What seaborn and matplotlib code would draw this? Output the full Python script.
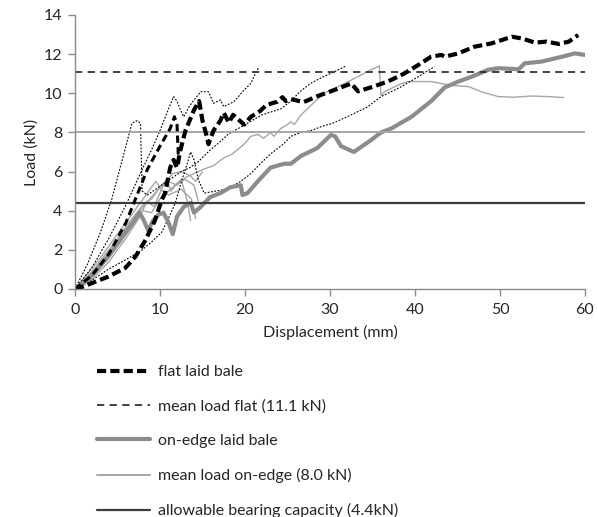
import matplotlib
matplotlib.use("Agg")
import matplotlib.pyplot as plt
import seaborn as sns
from matplotlib.lines import Line2D

# ---------------- data (displacement mm, load kN) ----------------
flat_main_x = [0, 0.8, 2.4, 3.9, 5.9, 7.1, 8.3, 9.4, 10.2, 10.6, 11.2, 11.6, 12.0, 12.4, 13.0, 14.0, 14.6, 15.0, 15.5, 15.7,
               16.3, 17.1, 17.5, 18.1, 18.6, 19.9, 20.7, 21.8, 22.5, 23.8, 24.4, 24.8, 25.4, 26.9, 28.5, 30.1, 31.3, 32.5,
               33.3, 34.8, 36.8, 38.7, 40.4, 41.9, 43.1, 43.5, 45.1, 47.0, 49.0, 51.4, 52.6, 54.1, 55.5, 56.9, 58.1, 59.2]
flat_main_y = [0, 0.1, 0.37, 0.63, 1.07, 1.65, 2.5, 3.5, 4.55, 4.9, 6.2, 6.6, 6.2, 7.1, 8.1, 9.15, 9.6, 8.6, 7.8, 7.4,
               8.1, 8.6, 9.0, 8.5, 8.9, 8.4, 8.8, 9.1, 9.4, 9.57, 9.8, 9.6, 9.7, 9.55, 9.85, 10.1, 10.3, 10.5,
               10.1, 10.3, 10.6, 11.0, 11.45, 11.87, 11.96, 11.87, 12.04, 12.38, 12.55, 12.89, 12.8, 12.59, 12.64, 12.52, 12.64, 12.98]

flat_b1_x = [0, 2, 4, 6, 7.3, 8.5, 10, 11.2, 11.7, 12.0, 12.2]
flat_b1_y = [0, 0.7, 1.8, 3.4, 4.8, 6.1, 7.3, 8.2, 8.8, 8.4, 6.4]

flat_a_x = [0, 1.5, 3, 4.3, 5.5, 6.7, 7.3, 7.7, 7.9, 8.5, 9.5, 10.5, 11.5, 12.5, 13.5, 14.5, 15.9, 17, 18, 20, 22,
            24.2, 25.4, 26.5, 27.7, 29, 30.5, 31.9]
flat_a_y = [0, 1.3, 2.9, 4.55, 6.5, 8.47, 8.6, 8.47, 5.0, 4.8, 5.1, 5.4, 5.7, 6.0, 6.2, 6.5, 7.1, 7.5, 7.9, 8.4, 8.9,
            9.2, 9.6, 10.1, 10.5, 10.8, 11.1, 11.4]

flat_b_x = [0, 2, 3.9, 6, 7.9, 9, 10.2, 11.2, 11.8, 12.6, 13.2, 13.6, 14.0, 14.5, 15.2, 16.5, 17.9, 19.5, 20.7, 21.8,
            23, 24.5, 25.4, 26.6, 27.8, 29, 30.5, 32.5, 34.4, 36, 38.4, 40.4, 41.3, 42.3]
flat_b_y = [0, 0.45, 1.0, 1.5, 2.0, 2.4, 2.9, 3.8, 4.4, 5.6, 6.4, 7.0, 6.6, 5.6, 4.9, 5.0, 5.1, 5.5, 5.9, 6.4,
            6.9, 7.4, 7.8, 8.0, 8.1, 8.3, 8.5, 8.9, 9.3, 9.83, 10.34, 10.85, 11.1, 11.36]

flat_c_x = [0, 2, 4, 6, 8, 9, 10, 11, 11.6, 12.0, 12.4, 12.8, 13.4, 14.0, 14.8, 15.7, 16.3, 17.1, 17.5, 18.7, 19.9,
            20.7, 21.3, 21.6]
flat_c_y = [0, 1.1, 2.6, 4.3, 6.2, 7.1, 8.1, 9.2, 9.83, 9.6, 9.15, 8.8, 9.3, 9.66, 10.08, 10.08, 9.49, 9.66, 9.32, 9.57, 10.17,
            10.51, 11.1, 11.3]

edge_main_x = [0, 1, 2, 3, 4, 5, 6, 7, 7.6, 8.1, 8.6, 9.2, 9.8, 10.4, 11.0, 11.5, 12.0, 12.8, 13.6, 14.0, 14.8, 15.9,
               17.1, 18.3, 19.5, 19.7, 20.3, 21.5, 23, 24.6, 25.4, 26.6, 28.5, 30.1, 30.6, 31.3, 32.8, 34.8, 36, 37.2,
               39.6, 41.9, 43.5, 45.1, 46.7, 48.6, 49.8, 52.2, 52.9, 54.9, 57.6, 58.8, 60]
edge_main_y = [0, 0.3, 0.7, 1.2, 1.7, 2.3, 2.9, 3.5, 3.9, 3.5, 3.0, 3.5, 3.8, 3.9, 3.4, 2.8, 3.7, 4.2, 4.4, 3.9, 4.2, 4.7,
               4.9, 5.2, 5.3, 4.8, 4.9, 5.5, 6.2, 6.4, 6.4, 6.8, 7.2, 7.87, 7.8, 7.3, 7.0, 7.6, 8.0, 8.2,
               8.8, 9.6, 10.3, 10.6, 10.85, 11.2, 11.28, 11.23, 11.53, 11.62, 11.9, 12.04, 11.96]

edge_g1_x = [0, 2, 4, 6, 8, 9, 10, 11, 12, 13, 14, 15, 16.3, 17.5, 18.5, 19.9, 20.7, 21.5, 22.2, 23, 23.4, 24.2, 25,
             25.4, 25.8, 26.6, 27.8, 29.3, 31.7, 33.3, 34.8, 35.8, 36.0, 36.5, 38.4, 39.2, 41.9, 43.1, 44.3, 46.3,
             47.8, 49.8, 51.7, 53.7, 55.7, 57.5]
edge_g1_y = [0, 0.9, 2.0, 3.1, 4.2, 4.7, 5.2, 5.5, 5.3, 5.7, 5.9, 6.1, 6.3, 6.7, 6.9, 7.4, 7.8, 7.9, 7.7, 8.0, 7.8, 8.2, 8.4,
             8.55, 8.4, 8.9, 9.4, 10.0, 10.5, 10.85, 11.2, 11.4, 9.9, 10.1, 10.5, 10.6, 10.6, 10.5, 10.4, 10.34,
             10.08, 9.83, 9.8, 9.86, 9.83, 9.78]

edge_g3_x = [0, 2, 4, 6, 8, 9, 10, 10.8, 11.3, 12, 13, 14, 14.5]
edge_g3_y = [0, 0.8, 1.9, 3.2, 4.3, 4.6, 5.2, 5.6, 5.0, 5.4, 5.6, 5.3, 4.5]

edge_g4_x = [0, 3, 5, 7, 8, 9, 10, 11.5, 12.5, 13.2, 13.6]
edge_g4_y = [0, 1.2, 2.4, 3.6, 4.0, 3.9, 4.6, 5.2, 5.6, 4.5, 3.5]

edge_g5_x = [0, 2, 4, 6, 7.5, 8.5, 9.3, 10.5, 11.5, 12.5, 13.5, 14.2, 15]
edge_g5_y = [0, 0.5, 1.4, 2.6, 3.6, 4.5, 4.2, 5.4, 5.9, 6.0, 5.8, 5.5, 6.0]

edge_g6_x = [0, 3, 6, 7.5, 8.5, 9.5, 10.3, 11, 12.5, 13.7, 14.2]
edge_g6_y = [0, 1.6, 3.4, 4.3, 4.9, 5.5, 5.0, 4.8, 5.1, 4.6, 3.6]

mean_flat = 11.1
mean_edge = 8.0
allowable = 4.4

x_ticks = [0, 10, 20, 30, 40, 50, 60]
y_ticks = [0, 2, 4, 6, 8, 10, 12, 14]
legend_labels = ["flat laid bale", "mean load flat (11.1 kN)", "on-edge laid bale",
                 "mean load on-edge (8.0 kN)", "allowable bearing capacity (4.4kN)"]

# ---------------- style ----------------
sns.set_theme(style="white")
plt.rcParams["font.family"] = ["Lato", "DejaVu Sans"]
FS = 11.5

fig = plt.figure(figsize=(5.98, 5.17), dpi=100)
ax = fig.add_axes([75 / 598, 1 - 289 / 517, (585 - 75) / 598, (289 - 15) / 517])

C_BLACK = "#000000"
C_GREY_THICK = "#8c8c8c"
C_GREY_THIN = "#a6a6a6"
C_ALLOW = "#3c3c3c"

def draw(x, y, **kw):
    sns.lineplot(x=x, y=y, ax=ax, sort=False, estimator=None, **kw)

# thin on-edge tests
for gx, gy in [(edge_g3_x, edge_g3_y), (edge_g4_x, edge_g4_y), (edge_g5_x, edge_g5_y),
               (edge_g6_x, edge_g6_y), (edge_g1_x, edge_g1_y)]:
    draw(gx, gy, color=C_GREY_THIN, linewidth=1.0)

# thin flat tests (dotted)
for fx, fy in [(flat_a_x, flat_a_y), (flat_b_x, flat_b_y), (flat_c_x, flat_c_y)]:
    draw(fx, fy, color=C_BLACK, linewidth=0.8, linestyle=(0, (1.6, 1.4)))

# main on-edge curve
draw(edge_main_x, edge_main_y, color=C_GREY_THICK, linewidth=3.0)

# reference lines
ax.axhline(mean_edge, color=C_GREY_THIN, linewidth=1.4, zorder=2)
ax.axhline(allowable, color=C_ALLOW, linewidth=1.6, zorder=2)
ax.axhline(mean_flat, color="#333333", linewidth=1.3, linestyle=(0, (4, 3)), zorder=2)

# flat dashed tests
draw(flat_b1_x, flat_b1_y, color=C_BLACK, linewidth=2.2, linestyle=(0, (2.4, 1.4)))
draw(flat_main_x, flat_main_y, color=C_BLACK, linewidth=3.0, linestyle=(0, (2.2, 1.0)))

ax.set_xlim(0, 60)
ax.set_ylim(0, 14)
ax.set_xticks(x_ticks)
ax.set_yticks(y_ticks)
ax.set_xlabel("Displacement (mm)", fontsize=FS, labelpad=6)
ax.set_ylabel("Load (kN)", fontsize=FS, labelpad=4)
ax.tick_params(axis="both", labelsize=FS, direction="out", length=5, width=1, color="#8a8a8a",
               bottom=True, left=True)
ax.tick_params(axis="x", pad=5)
ax.tick_params(axis="y", pad=4)
for side in ["top", "right"]:
    ax.spines[side].set_visible(False)
for side in ["left", "bottom"]:
    ax.spines[side].set_color("#8a8a8a")
    ax.spines[side].set_linewidth(1.0)
ax.grid(False)

handles = [
    Line2D([], [], color=C_BLACK, linewidth=3.0, linestyle=(0, (2.2, 1.0))),
    Line2D([], [], color="#333333", linewidth=1.3, linestyle=(0, (4, 3))),
    Line2D([], [], color=C_GREY_THICK, linewidth=3.0),
    Line2D([], [], color=C_GREY_THIN, linewidth=1.4),
    Line2D([], [], color=C_ALLOW, linewidth=1.6),
]
fig.legend(handles, legend_labels, loc="upper left", bbox_to_anchor=(97 / 598, 1 - 365 / 517),
           frameon=False, fontsize=FS, handlelength=3.3, handletextpad=0.5, labelspacing=1.26,
           borderpad=0, borderaxespad=0)

fig.savefig("out.png", dpi=100)
